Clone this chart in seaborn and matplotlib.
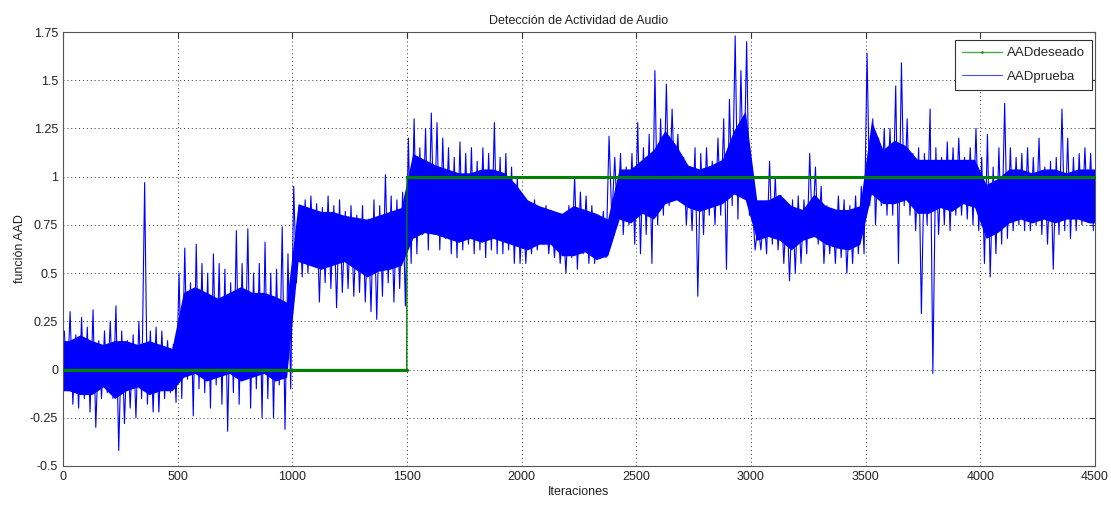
import numpy as np
import pandas as pd
import matplotlib
matplotlib.use("Agg")
import matplotlib.pyplot as plt
import seaborn as sns

# ---------------- data ----------------
titulo = "Detección de Actividad de Audio"
xlabel = "Iteraciones"
ylabel = "función AAD"
serie_deseado = "AADdeseado"
serie_prueba = "AADprueba"

n_iter = 4500
bin_ancho = 25     # iterations per extreme-value bin of AADprueba
nucleo_ancho = 50  # iterations per dense-core bin of AADprueba

# AADdeseado: step levels and change point
deseado_niveles = [0, 1]
deseado_cambio = 1500

# AADprueba: per-bin (25 iterations) minimum and maximum, 4 bins per 100 iterations
prueba_max = [
    0.20, 0.30, 0.18, 0.27,   # 0-100
    0.22, 0.31, 0.15, 0.20,   # 100-200
    0.25, 0.33, 0.20, 0.15,   # 200-300
    0.18, 0.25, 0.97, 0.20,   # 300-400
    0.22, 0.20, 0.15, 0.13,   # 400-500
    0.50, 0.63, 0.45, 0.65,   # 500-600
    0.55, 0.50, 0.60, 0.55,   # 600-700
    0.52, 0.45, 0.72, 0.55,   # 700-800
    0.73, 0.50, 0.55, 0.66,   # 800-900
    0.50, 0.52, 0.74, 0.60,   # 900-1000
    0.95, 0.85, 0.88, 0.90,   # 1000-1100
    0.86, 0.84, 0.90, 0.85,   # 1100-1200
    0.88, 0.82, 0.85, 0.80,   # 1200-1300
    0.85, 0.78, 0.88, 0.85,   # 1300-1400
    1.01, 0.90, 0.88, 0.92,   # 1400-1500
    1.20, 1.30, 1.15, 1.25,   # 1500-1600
    1.33, 1.28, 1.20, 1.15,   # 1600-1700
    1.10, 1.18, 1.12, 1.15,   # 1700-1800
    1.08, 1.15, 1.12, 1.28,   # 1800-1900
    1.10, 1.12, 1.05, 1.00,   # 1900-2000
    0.85, 0.85, 0.88, 0.82,   # 2000-2100
    0.85, 0.80, 0.78, 0.75,   # 2100-2200
    0.85, 1.00, 0.92, 0.90,   # 2200-2300
    0.85, 0.80, 0.82, 1.21,   # 2300-2400
    1.10, 1.12, 1.05, 1.12,   # 2400-2500
    1.28, 1.15, 1.22, 1.55,   # 2500-2600
    1.30, 1.48, 1.35, 1.22,   # 2600-2700
    1.10, 1.05, 1.15, 1.12,   # 2700-2800
    1.15, 1.08, 1.20, 1.30,   # 2800-2900
    1.40, 1.73, 1.55, 1.70,   # 2900-3000
    0.85, 0.75, 0.82, 1.08,   # 3000-3100
    1.00, 0.90, 0.85, 0.88,   # 3100-3200
    0.90, 0.88, 1.12, 1.05,   # 3200-3300
    0.95, 0.85, 0.82, 0.90,   # 3300-3400
    0.88, 0.85, 0.90, 0.95,   # 3400-3500
    1.64, 1.30, 1.20, 1.25,   # 3500-3600
    1.25, 1.47, 1.59, 1.30,   # 3600-3700
    1.12, 1.15, 1.12, 1.35,   # 3700-3800
    1.15, 1.10, 1.18, 1.15,   # 3800-3900
    1.20, 1.10, 1.15, 1.25,   # 3900-4000
    1.10, 1.22, 1.05, 1.15,   # 4000-4100
    1.38, 1.15, 1.10, 1.12,   # 4100-4200
    1.15, 1.10, 1.20, 1.05,   # 4200-4300
    1.08, 1.10, 1.35, 1.20,   # 4300-4400
    1.10, 1.12, 1.15, 1.12,   # 4400-4500
]
prueba_min = [
    -0.10, -0.18, -0.20, -0.15,   # 0-100
    -0.22, -0.30, -0.15, -0.12,   # 100-200
    -0.15, -0.42, -0.28, -0.20,   # 200-300
    -0.25, -0.15, -0.18, -0.22,   # 300-400
    -0.22, -0.15, -0.12, -0.17,   # 400-500
    -0.15, -0.05, -0.24, -0.10,   # 500-600
    -0.12, -0.20, -0.08, -0.18,   # 600-700
    -0.32, -0.12, -0.18, -0.05,   # 700-800
    -0.20, -0.10, -0.25, -0.15,   # 800-900
    -0.25, -0.08, -0.31, -0.10,   # 900-1000
    0.45, 0.48, 0.50, 0.55,       # 1000-1100
    0.35, 0.45, 0.42, 0.32,       # 1100-1200
    0.40, 0.42, 0.38, 0.40,       # 1200-1300
    0.35, 0.30, 0.26, 0.38,       # 1300-1400
    0.45, 0.35, 0.42, 0.33,       # 1400-1500
    0.55, 0.60, 0.70, 0.62,       # 1500-1600
    0.70, 0.62, 0.68, 0.60,       # 1600-1700
    0.58, 0.62, 0.65, 0.60,       # 1700-1800
    0.62, 0.58, 0.62, 0.60,       # 1800-1900
    0.60, 0.62, 0.55, 0.55,       # 1900-2000
    0.55, 0.60, 0.62, 0.65,       # 2000-2100
    0.60, 0.58, 0.55, 0.50,       # 2100-2200
    0.58, 0.52, 0.60, 0.55,       # 2200-2300
    0.55, 0.60, 0.58, 0.78,       # 2300-2400
    0.75, 0.70, 0.75, 0.65,       # 2400-2500
    0.60, 0.70, 0.55, 0.75,       # 2500-2600
    0.80, 0.85, 0.90, 0.88,       # 2600-2700
    0.75, 0.72, 0.38, 0.70,       # 2700-2800
    0.80, 0.75, 0.80, 0.52,       # 2800-2900
    0.85, 0.78, 0.90, 0.80,       # 2900-3000
    0.62, 0.62, 0.60, 0.65,       # 3000-3100
    0.62, 0.55, 0.46, 0.50,       # 3100-3200
    0.55, 0.60, 0.70, 0.65,       # 3200-3300
    0.55, 0.60, 0.55, 0.58,       # 3300-3400
    0.50, 0.55, 0.60, 0.60,       # 3400-3500
    0.85, 0.75, 0.85, 0.80,       # 3500-3600
    0.80, 0.55, 0.85, 0.80,       # 3600-3700
    0.72, 0.29, 0.75, -0.02,      # 3700-3800
    0.70, 0.75, 0.72, 0.80,       # 3800-3900
    0.80, 0.78, 0.75, 0.72,       # 3900-4000
    0.55, 0.48, 0.60, 0.65,       # 4000-4100
    0.68, 0.72, 0.75, 0.72,       # 4100-4200
    0.72, 0.75, 0.70, 0.65,       # 4200-4300
    0.52, 0.70, 0.72, 0.68,       # 4300-4400
    0.72, 0.75, 0.78, 0.72,       # 4400-4500
]

# AADprueba: dense core of the trace, per 50 iterations (10 per 500)
nucleo_min = [
    -0.11, -0.13, -0.13, -0.09, -0.15, -0.11, -0.09, -0.13, -0.11, -0.11,   # 0-500
    -0.04, -0.02, -0.06, -0.04, -0.02, -0.06, -0.04, -0.02, -0.06, -0.04,   # 500-1000
    0.56, 0.54, 0.52, 0.54, 0.56, 0.52, 0.48, 0.51, 0.52, 0.54,             # 1000-1500
    0.68, 0.71, 0.70, 0.68, 0.66, 0.68, 0.66, 0.68, 0.66, 0.64,             # 1500-2000
    0.62, 0.65, 0.65, 0.59, 0.59, 0.61, 0.57, 0.59, 0.78, 0.76,             # 2000-2500
    0.81, 0.78, 0.86, 0.88, 0.84, 0.82, 0.84, 0.86, 0.91, 0.88,             # 2500-3000
    0.67, 0.69, 0.67, 0.62, 0.67, 0.69, 0.65, 0.63, 0.62, 0.65,             # 3000-3500
    0.91, 0.86, 0.86, 0.88, 0.81, 0.81, 0.84, 0.82, 0.86, 0.84,             # 3500-4000
    0.68, 0.71, 0.76, 0.78, 0.76, 0.78, 0.76, 0.78, 0.78, 0.76,             # 4000-4500
]
nucleo_max = [
    0.15, 0.18, 0.15, 0.13, 0.15, 0.15, 0.13, 0.15, 0.13, 0.11,             # 0-500
    0.40, 0.43, 0.40, 0.37, 0.40, 0.43, 0.40, 0.40, 0.38, 0.35,             # 500-1000
    0.86, 0.84, 0.82, 0.82, 0.80, 0.79, 0.78, 0.80, 0.82, 0.84,             # 1000-1500
    1.12, 1.09, 1.06, 1.04, 1.02, 1.02, 1.04, 1.04, 1.02, 0.96,             # 1500-2000
    0.88, 0.85, 0.83, 0.81, 0.85, 0.83, 0.81, 0.78, 1.04, 1.04,             # 2000-2500
    1.09, 1.14, 1.24, 1.16, 1.06, 1.04, 1.06, 1.09, 1.24, 1.34,             # 2500-3000
    0.88, 0.88, 0.91, 0.85, 0.83, 0.91, 0.85, 0.83, 0.83, 0.85,             # 3000-3500
    1.29, 1.14, 1.19, 1.16, 1.09, 1.09, 1.09, 1.09, 1.09, 1.09,             # 3500-4000
    0.96, 0.99, 1.04, 1.04, 1.02, 1.04, 1.04, 1.02, 1.04, 1.04,             # 4000-4500
]

x_ticks = [0, 500, 1000, 1500, 2000, 2500, 3000, 3500, 4000, 4500]
y_ticks = [-0.5, -0.25, 0, 0.25, 0.5, 0.75, 1, 1.25, 1.5, 1.75]
y_ticklabels = ["-0.5", "-0.25", "0", "0.25", "0.5", "0.75", "1", "1.25", "1.5", "1.75"]

# ---------------- build tables ----------------
it_des = np.arange(0, n_iter + 1)
val_des = np.where(it_des < deseado_cambio, deseado_niveles[0], deseado_niveles[1])
df_des = pd.DataFrame({"it": it_des, "val": val_des})

xs, ys = [], []
for i, (lo, hi) in enumerate(zip(prueba_min, prueba_max)):
    start = i * bin_ancho
    xs += [start + 6, start + 18]
    ys += [hi, lo]
df_pru = pd.DataFrame({"it": xs, "val": ys})

x_nuc = [0] + [i * nucleo_ancho + nucleo_ancho / 2 for i in range(len(nucleo_min))] + [n_iter]
lo_nuc = [nucleo_min[0]] + nucleo_min + [nucleo_min[-1]]
hi_nuc = [nucleo_max[0]] + nucleo_max + [nucleo_max[-1]]

# ---------------- plot ----------------
sns.set_theme(style="white")
plt.rcParams["font.family"] = ["Liberation Sans", "DejaVu Sans"]

fig = plt.figure(figsize=(11.11, 5.08), dpi=100)
ax = fig.add_axes([0.0567, 0.0827, 0.9289, 0.8543])

ax.fill_between(x_nuc, lo_nuc, hi_nuc, color="#0000ff", linewidth=0, zorder=2)
sns.lineplot(data=df_pru, x="it", y="val", ax=ax, color="#0000ff", linewidth=0.8,
             estimator=None, sort=False, label=serie_prueba, zorder=2)
sns.lineplot(data=df_des, x="it", y="val", ax=ax, color="#008000", linewidth=1.0,
             marker=".", markersize=4, markeredgewidth=0, estimator=None, sort=False,
             label=serie_deseado, zorder=3)

ax.set_xlim(0, n_iter)
ax.set_ylim(-0.5, 1.75)
ax.set_xticks(x_ticks)
ax.set_xticklabels([str(t) for t in x_ticks])
ax.set_yticks(y_ticks)
ax.set_yticklabels(y_ticklabels)

ax.grid(True, linestyle=(0, (1, 3)), color="#333333", linewidth=0.7)
ax.set_axisbelow(True)
ax.tick_params(direction="in", length=4, width=0.8, colors="#333333",
               labelsize=9, top=True, right=True, labelcolor="#222222")
for s in ax.spines.values():
    s.set_color("#555555")
    s.set_linewidth(0.8)

ax.set_title(titulo, fontsize=9, color="#222222", pad=6)
ax.set_xlabel(xlabel, fontsize=9, color="#222222", labelpad=2)
ax.set_ylabel(ylabel, fontsize=9, color="#222222", labelpad=3)

handles, labels = ax.get_legend_handles_labels()
order = [labels.index(serie_deseado), labels.index(serie_prueba)]
leg = ax.legend([handles[i] for i in order], [labels[i] for i in order],
                loc="upper right", fontsize=9.5, frameon=True, fancybox=False,
                edgecolor="#333333", framealpha=1, borderpad=0.55, handlelength=3.0,
                handletextpad=0.35, borderaxespad=0, labelspacing=0.85,
                bbox_to_anchor=(0.997, 0.982))
leg.get_frame().set_linewidth(0.8)
leg.set_zorder(10)
for h in leg.legend_handles:
    h.set_alpha(0.7)

fig.savefig("out.png", dpi=100)
